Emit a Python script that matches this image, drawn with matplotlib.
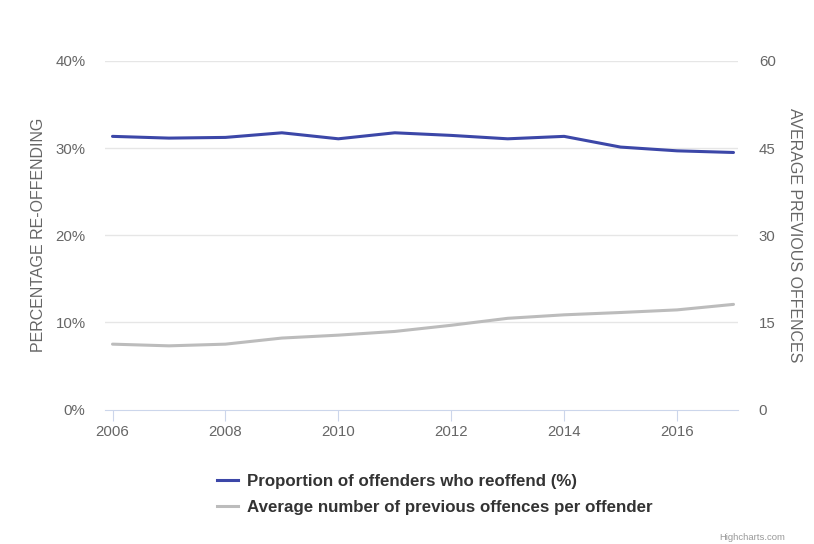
import matplotlib
matplotlib.use("Agg")
import matplotlib.pyplot as plt
from matplotlib.lines import Line2D

plt.rcParams["font.family"] = ["Liberation Sans", "DejaVu Sans"]

years = [2006, 2007, 2008, 2009, 2010, 2011, 2012, 2013, 2014, 2015, 2016, 2017]
reoffend_pct = [31.35, 31.15, 31.23, 31.76, 31.07, 31.76, 31.46, 31.07, 31.35, 30.12, 29.69, 29.5]
prev_offences = [11.25, 10.96, 11.25, 12.3, 12.8, 13.44, 14.5, 15.7, 16.3, 16.7, 17.15, 18.1]

left_ticks = [0, 10, 20, 30, 40]
right_ticks = [0, 15, 30, 45, 60]
x_ticks = [2006, 2008, 2010, 2012, 2014, 2016]

blue = "#3c47a8"
grey = "#bcbcbc"
label_col = "#666666"

W, H = 814, 544
fig = plt.figure(figsize=(W / 100, H / 100), dpi=100)
# plot area in pixels: x 105..738, y 61..409.5
ax = fig.add_axes([105 / W, 1 - 409.5 / H, 633 / W, 348.5 / H])
ax2 = ax.twinx()

ax.set_xlim(2005.867, 2017.08)
ax.set_ylim(0, 40)
ax2.set_ylim(0, 60)

for v in left_ticks[1:]:
    ax.axhline(v, color="#e6e6e6", lw=1, zorder=0)

ax.plot(years, reoffend_pct, color=blue, lw=2.2, solid_joinstyle="round",
        solid_capstyle="round", zorder=3)
ax2.plot(years, prev_offences, color=grey, lw=2.2, solid_joinstyle="round",
         solid_capstyle="round", zorder=3)

for a in (ax, ax2):
    for s in a.spines.values():
        s.set_visible(False)
ax.spines["bottom"].set_visible(True)
ax.spines["bottom"].set_color("#ccd6eb")

ax.set_xticks(x_ticks)
ax.set_xticklabels([str(x) for x in x_ticks])
ax.tick_params(axis="x", length=8, color="#ccd6eb", labelcolor=label_col, labelsize=10.8, pad=3)

ax.set_yticks(left_ticks)
ax.set_yticklabels([f"{v}%" for v in left_ticks])
ax.tick_params(axis="y", length=0, labelcolor=label_col, labelsize=10.8, pad=14)
ax2.set_yticks(right_ticks)
ax2.set_yticklabels([str(v) for v in right_ticks])
ax2.tick_params(axis="y", length=0, labelcolor=label_col, labelsize=10.8, pad=15)

ax.set_ylabel("PERCENTAGE RE-OFFENDING", color=label_col, fontsize=11.5, labelpad=7)
ax2.set_ylabel("AVERAGE PREVIOUS OFFENCES", color=label_col, fontsize=11.5, rotation=270,
               labelpad=19)

handles = [Line2D([], [], color=blue, lw=2.2),
           Line2D([], [], color=grey, lw=2.2)]
labels = ["Proportion of offenders who reoffend (%)",
          "Average number of previous offences per offender"]
leg = fig.legend(handles, labels, loc="upper left", bbox_to_anchor=(217 / W, 1 - 474 / H),
                 frameon=False, handlelength=1.25, handletextpad=0.5, labelspacing=0.62,
                 borderpad=0, borderaxespad=0, prop={"weight": "bold", "size": 12.2})
for t in leg.get_texts():
    t.set_color("#333333")

fig.text(785 / W, 1 - 537 / H, "Highcharts.com", ha="right", va="center",
         fontsize=6.8, color="#999999")

fig.savefig("out.png", dpi=100, facecolor="white")
